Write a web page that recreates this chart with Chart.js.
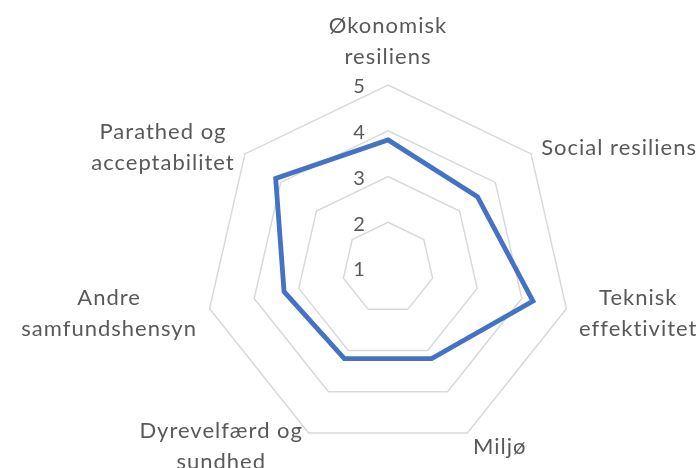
<!DOCTYPE html>
<html>
<head>
<meta charset="utf-8">
<script src="https://cdn.jsdelivr.net/npm/chart.js@4"></script>
<style>
  body { margin: 0; background: #ffffff; }
  #wrap { width: 700px; height: 468px; }
</style>
</head>
<body>
<div id="wrap"><canvas id="radar"></canvas></div>
<script>
// Categories (each one split into the lines shown on the chart)
const categories = [
    ['Økonomisk', 'resiliens'],
    ['Social resiliens'],
    ['Teknisk', 'effektivitet'],
    ['Miljø'],
    ['Dyrevelfærd og', 'sundhed'],
    ['Andre', 'samfundshensyn'],
    ['Parathed og', 'acceptabilitet']
];

// Scores
const scores = [3.8, 3.5, 4.25, 3.2, 3.2, 3.33, 4.14];

// Axis tick labels
const tickValues = [1, 2, 3, 4, 5];

const textColor = '#595959';
const fontFamily = 'Lato, "Open Sans", sans-serif';

// Draws the axis numbers and the category names the way Excel places them
const labelPlugin = {
    id: 'excelLabels',
    afterDraw(chart) {
        const scale = chart.scales.r;
        const ctx = chart.ctx;
        ctx.save();
        ctx.fillStyle = textColor;

        // Tick numbers, just left of the vertical axis
        ctx.font = '20px ' + fontFamily;
        ctx.textAlign = 'center';
        ctx.textBaseline = 'middle';
        tickValues.forEach(v => {
            const p = scale.getPointPositionForValue(0, v);
            ctx.fillText(String(v), p.x - 29, p.y + 2);
        });

        // Category names
        ctx.font = '22px ' + fontFamily;
        ctx.letterSpacing = '1px';
        const lineHeight = 31;
        categories.forEach((lines, i) => {
            const angle = scale.getIndexAngle(i);
            const s = Math.sin(angle);
            const c = Math.cos(angle);
            const p = scale.getPointPosition(i, scale.drawingArea + 13);
            const blockW = Math.max(...lines.map(t => ctx.measureText(t).width));
            const blockH = lines.length * lineHeight;

            let cx = p.x;
            if (s > 0.1) cx = p.x + blockW / 2;
            else if (s < -0.1) cx = p.x - blockW / 2;

            let top = p.y - blockH / 2 + 2;
            if (c > 0.95) top = p.y - blockH;
            else if (c < -0.95) top = p.y;

            lines.forEach((t, k) => {
                ctx.fillText(t, cx, top + lineHeight * (k + 0.5));
            });
        });
        ctx.restore();
    }
};

let ctx = document.getElementById('radar');

new Chart(ctx, {
    type: 'radar',
    data: {
        labels: categories,
        datasets: [{
            data: scores,
            borderColor: '#4472C4',
            backgroundColor: 'rgba(0,0,0,0)',
            borderWidth: 4.8,
            borderJoinStyle: 'miter',
            fill: false,
            pointRadius: 0,
            pointHoverRadius: 0,
            tension: 0
        }]
    },
    options: {
        responsive: true,
        maintainAspectRatio: false,
        animation: false,
        layout: {
            // keeps the plot where the reference has it
            padding: { top: 85, bottom: 17, left: 205, right: 129 }
        },
        plugins: {
            legend: { display: false },
            tooltip: { enabled: false }
        },
        scales: {
            r: {
                min: 1,
                max: 5,
                ticks: { display: false, stepSize: 1 },
                pointLabels: { display: false },
                angleLines: { display: false },
                grid: { color: '#d9d9d9', lineWidth: 1.5 }
            }
        }
    },
    plugins: [labelPlugin]
});
</script>
</body>
</html>
